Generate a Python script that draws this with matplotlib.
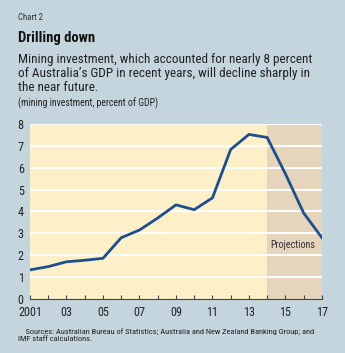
import matplotlib
matplotlib.use("Agg")
import matplotlib.pyplot as plt
from matplotlib import font_manager

years = [2001, 2002, 2003, 2004, 2005, 2006, 2007, 2008, 2009,
         2010, 2011, 2012, 2013, 2014, 2015, 2016, 2017]
mining_inv = [1.33, 1.48, 1.70, 1.77, 1.86, 2.80, 3.15, 3.70, 4.30,
              4.08, 4.62, 6.83, 7.52, 7.38, 5.72, 3.93, 2.80]
proj_start = 2014
y_ticks = [0, 1, 2, 3, 4, 5, 6, 7, 8]
x_ticks = [2001, 2003, 2005, 2007, 2009, 2011, 2013, 2015, 2017]
x_labels = ["2001", "03", "05", "07", "09", "11", "13", "15", "17"]

# condensed font, whichever one is installed
names = {f.name for f in font_manager.fontManager.ttflist}
fam = "DejaVu Sans"
for c in ["Roboto Condensed", "Archivo Narrow", "Barlow Semi Condensed", "Asap Condensed"]:
    if c in names:
        fam = c
        break
plt.rcParams["font.family"] = [fam, "DejaVu Sans"]

bg = "#c4d5dd"
fig = plt.figure(figsize=(3.45, 3.53), dpi=100, facecolor=bg)
ax = fig.add_axes([0.087, 0.153, 0.846, 0.496])
ax.set_facecolor("#fdf0c9")

ax.axvspan(proj_start, years[-1], color="#e6d4bd", zorder=0, lw=0)
for v in y_ticks[1:]:
    ax.axhline(v, color="white", lw=1.4, zorder=1)
ax.plot(years, mining_inv, color="#1d4f8c", lw=2.0, zorder=3)
ax.text(2015.4, 2.46, "Projections", fontsize=7.2, color="#333333", ha="center", va="center")

ax.set_xlim(years[0], years[-1])
ax.set_ylim(0, 8)
ax.set_yticks(y_ticks)
ax.set_xticks(years, minor=True)
ax.set_xticks(x_ticks)
ax.set_xticklabels(x_labels)
ax.tick_params(axis="x", which="both", direction="in", length=3, width=0.8,
               color="#444444", labelsize=8.7, pad=5, labelcolor="#222222")
ax.tick_params(axis="y", length=0, labelsize=8.7, pad=4.5, labelcolor="#222222")
for s in ["top", "right", "left"]:
    ax.spines[s].set_visible(False)
ax.spines["bottom"].set_color("#444444")
ax.spines["bottom"].set_linewidth(0.8)

fig.text(18 / 345, 1 - 17 / 353, "Chart 2", fontsize=6.3, color="#333333", va="center")
fig.text(18 / 345, 1 - 38 / 353, "Drilling down", fontsize=10.5, weight="bold",
         color="#111111", va="center")
fig.text(18 / 345, 1 - 73.5 / 353,
         "Mining investment, which accounted for nearly 8 percent\n"
         "of Australia\u2019s GDP in recent years, will decline sharply in\n"
         "the near future.", fontsize=9.5, color="#222222", va="center",
         linespacing=1.1)
fig.text(18 / 345, 1 - 103.5 / 353, "(mining investment, percent of GDP)",
         fontsize=7, color="#222222", va="center")
fig.text(18 / 345, 1 - 335 / 353,
         "    Sources: Australian Bureau of Statistics; Australia and New Zealand Banking Group; and\n"
         "IMF staff calculations.", fontsize=6.0, color="#222222", va="center",
         linespacing=1.35)

fig.savefig("out.png", dpi=100, facecolor=bg)
